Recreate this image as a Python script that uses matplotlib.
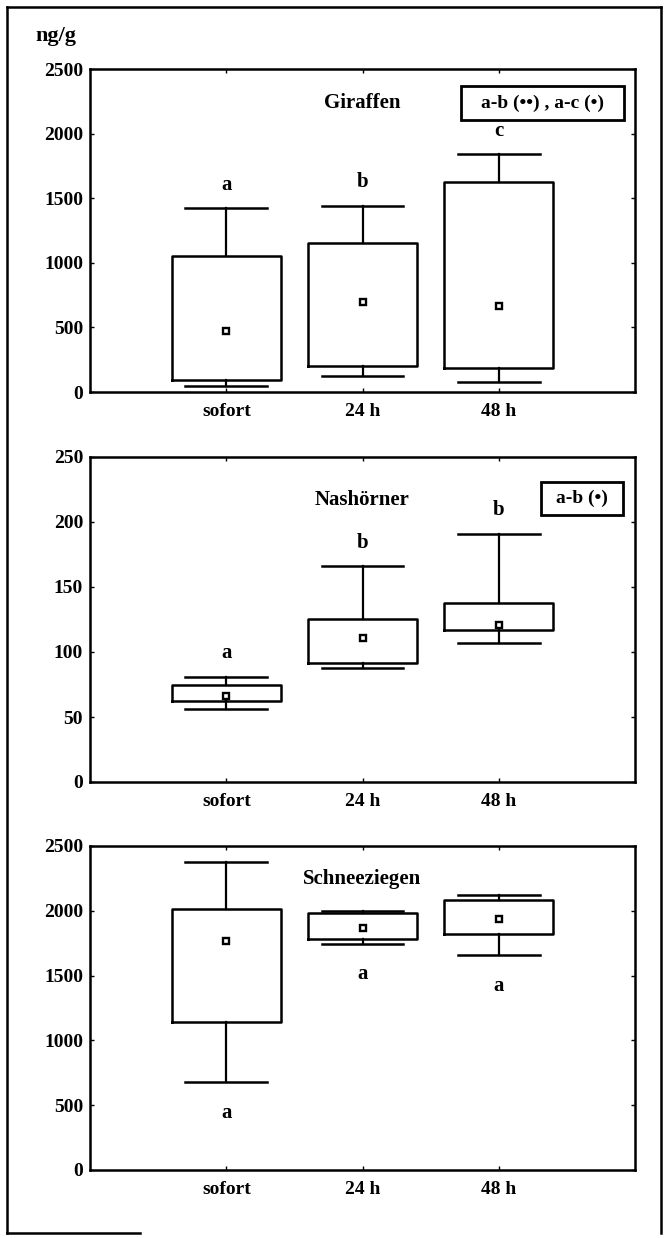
import matplotlib
matplotlib.use("Agg")
import matplotlib.pyplot as plt
from matplotlib.lines import Line2D

plt.rcParams['font.family'] = ['Liberation Serif', 'DejaVu Serif']
plt.rcParams['font.weight'] = 'bold'

# categories
groups = ['sofort', '24 h', '48 h']

# Giraffen
gir_whislo = [46, 123, 77]
gir_q1 = [95, 205, 185]
gir_q3 = [1051, 1154, 1628]
gir_whishi = [1423, 1441, 1841]
gir_mean = [474, 700, 662]
gir_letters = ['a', 'b', 'c']

# Nashoerner
nas_whislo = [56, 87.7, 106.7]
nas_q1 = [62.5, 91.8, 117]
nas_q3 = [74.8, 125.7, 138]
nas_whishi = [81, 166, 191]
nas_mean = [66.3, 111, 121]
nas_letters = ['a', 'b', 'b']

# Schneeziegen
sch_whislo = [676, 1746, 1659]
sch_q1 = [1145, 1782, 1821]
sch_q3 = [2011, 1986, 2083]
sch_whishi = [2379, 1998, 2124]
sch_mean = [1770, 1870, 1934]
sch_letters = ['a', 'a', 'a']

panels = [
    dict(title='Giraffen', whislo=gir_whislo, q1=gir_q1, q3=gir_q3, whishi=gir_whishi,
         mean=gir_mean, letters=gir_letters, ymax=2500, step=500, title_y=2236,
         note='a-b (••) , a-c (•)', note_box=(2.72, 2105, 1.20, 263), above=True),
    dict(title='Nashörner', whislo=nas_whislo, q1=nas_q1, q3=nas_q3, whishi=nas_whishi,
         mean=nas_mean, letters=nas_letters, ymax=250, step=50, title_y=217,
         note='a-b (•)', note_box=(3.31, 205, 0.60, 25.7), above=True),
    dict(title='Schneeziegen', whislo=sch_whislo, q1=sch_q1, q3=sch_q3, whishi=sch_whishi,
         mean=sch_mean, letters=sch_letters, ymax=2500, step=500, title_y=2243,
         note=None, note_box=None, above=False),
]

fig = plt.figure(figsize=(6.66, 12.38), dpi=100)
W, H = 666, 1238
axes_px = [(69, 392), (457, 782), (846, 1170)]

for p, (top, bot) in zip(panels, axes_px):
    ax = fig.add_axes([90 / W, 1 - bot / H, 545 / W, (bot - top) / H])
    stats = []
    for i in range(3):
        stats.append(dict(whislo=p['whislo'][i], q1=p['q1'][i], med=p['q1'][i],
                          q3=p['q3'][i], whishi=p['whishi'][i], mean=p['mean'][i],
                          fliers=[]))
    ax.bxp(stats, positions=[1, 2, 3], widths=0.8, capwidths=0.6, showmeans=True,
           showfliers=False,
           boxprops=dict(color='black', linewidth=1.8),
           whiskerprops=dict(color='black', linewidth=1.6),
           capprops=dict(color='black', linewidth=1.8),
           medianprops=dict(linewidth=0),
           meanprops=dict(marker='s', markersize=5, markerfacecolor='white',
                          markeredgecolor='black', markeredgewidth=1.7))
    ax.set_xlim(0, 4)
    ax.set_ylim(0, p['ymax'])
    ax.set_yticks(range(0, p['ymax'] + 1, p['step']))
    ax.set_xticks([1, 2, 3])
    ax.set_xticklabels(groups)
    ax.tick_params(direction='in', length=3, width=1, top=True, right=True,
                   labelsize=14, pad=5)
    ax.tick_params(axis='x', pad=8)
    for lab in ax.get_xticklabels() + ax.get_yticklabels():
        lab.set_fontweight('bold')
    for s in ax.spines.values():
        s.set_linewidth(1.8)

    ax.text(2.0, p['title_y'], p['title'], ha='center', va='center',
            fontsize=15, fontweight='bold')

    for i, let in enumerate(p['letters']):
        if p['above']:
            ax.annotate(let, (i + 1, p['whishi'][i]), xytext=(0, 17),
                        textcoords='offset points', ha='center', va='center',
                        fontsize=15, fontweight='bold')
        else:
            ax.annotate(let, (i + 1, p['whislo'][i]), xytext=(0, -22),
                        textcoords='offset points', ha='center', va='center',
                        fontsize=15, fontweight='bold')

    if p['note']:
        x0, y0, w, h = p['note_box']
        ax.add_patch(plt.Rectangle((x0, y0), w, h, fill=False, edgecolor='black',
                                   linewidth=2))
        ax.text(x0 + w / 2, y0 + h / 2, p['note'], ha='center', va='center',
                fontsize=14, fontweight='bold')

fig.text(35 / W, 1 - 41 / H, 'ng/g', ha='left', va='baseline', fontsize=16,
         fontweight='bold')

# outer frame
frame = dict(color='black', linewidth=1.8, transform=fig.transFigure)
fig.add_artist(Line2D([7 / W, 661 / W], [1 - 7 / H, 1 - 7 / H], **frame))
fig.add_artist(Line2D([7 / W, 7 / W], [1 - 7 / H, 1 - 1233 / H], **frame))
fig.add_artist(Line2D([661 / W, 661 / W], [1 - 7 / H, 1 - 1233 / H], **frame))
fig.add_artist(Line2D([7 / W, 140 / W], [1 - 1233 / H, 1 - 1233 / H], **frame))

fig.savefig('out.png', dpi=100)
